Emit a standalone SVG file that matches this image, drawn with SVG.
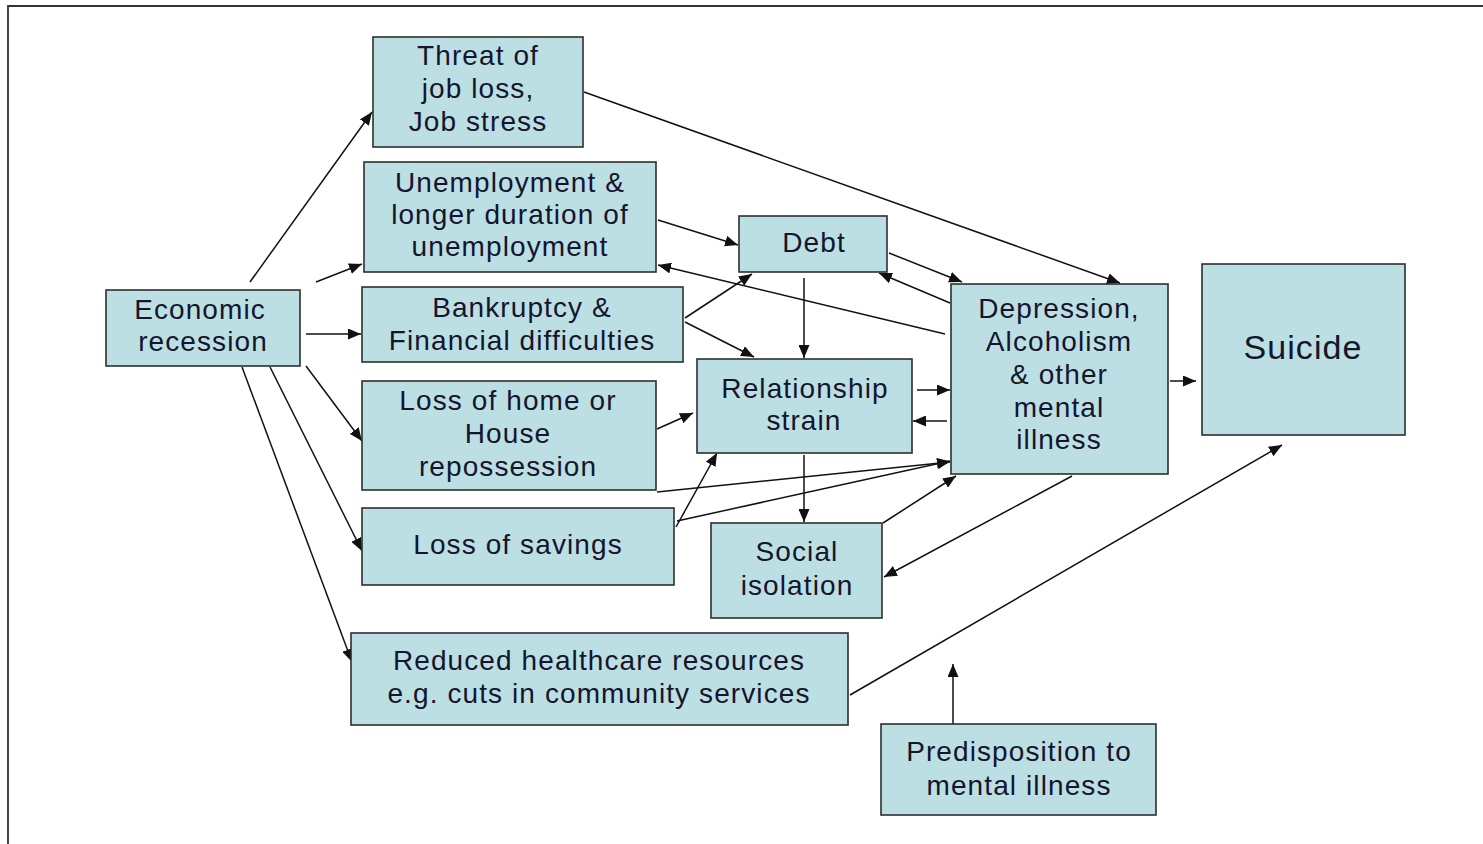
<svg xmlns="http://www.w3.org/2000/svg" width="1483" height="844" viewBox="0 0 1483 844">
  <style>
    .box { fill: #bcdfe3; stroke: #2e2e2e; stroke-width: 1.6; }
    .lbl { font-family: "Liberation Sans", Arial, sans-serif; font-size: 28px; fill: #15152e; text-anchor: middle; letter-spacing: 1.1px; }
    .big { font-size: 34px; }
    .con { stroke: #111; stroke-width: 1.5; fill: none; marker-end: url(#arrow); }
    .frame { stroke: #333; stroke-width: 1.8; fill: none; }
  </style>
  <defs>
    <marker id="arrow" viewBox="0 0 13 11" refX="13" refY="5.5" markerWidth="13" markerHeight="11" markerUnits="userSpaceOnUse" orient="auto">
      <path d="M0,0 L13,5.5 L0,11 Z" fill="#111"/>
    </marker>
  </defs>

  <rect width="1483" height="844" fill="#ffffff"/>
  <!-- outer frame (top and left edges) -->
  <path class="frame" d="M8,844 V6 H1483"/>

  <!-- connectors -->
  <g id="connectors">
    <line class="con" x1="250" y1="282" x2="372" y2="112"/>
    <line class="con" x1="316" y1="282" x2="362" y2="264"/>
    <line class="con" x1="306" y1="334" x2="361" y2="334"/>
    <line class="con" x1="306" y1="366" x2="362" y2="441"/>
    <line class="con" x1="270" y1="367" x2="362" y2="551"/>
    <line class="con" x1="242" y1="367" x2="352" y2="662"/>
    <line class="con" x1="584" y1="92" x2="1120" y2="283"/>
    <line class="con" x1="658" y1="220" x2="738" y2="245"/>
    <line class="con" x1="945" y1="334" x2="658" y2="265"/>
    <line class="con" x1="889" y1="253" x2="962" y2="282"/>
    <line class="con" x1="950" y1="303" x2="879" y2="273"/>
    <line class="con" x1="685" y1="318" x2="752" y2="274"/>
    <line class="con" x1="685" y1="322" x2="754" y2="357"/>
    <line class="con" x1="804" y1="278" x2="804" y2="358"/>
    <line class="con" x1="917" y1="390" x2="950" y2="390"/>
    <line class="con" x1="947" y1="421" x2="913" y2="421"/>
    <line class="con" x1="657" y1="429" x2="693" y2="413"/>
    <line class="con" x1="657" y1="492" x2="950" y2="462"/>
    <line class="con" x1="676" y1="527" x2="717" y2="453"/>
    <line class="con" x1="677" y1="521" x2="950" y2="461"/>
    <line class="con" x1="804" y1="455" x2="804" y2="522"/>
    <line class="con" x1="883" y1="523" x2="956" y2="476"/>
    <line class="con" x1="1072" y1="476" x2="884" y2="577"/>
    <line class="con" x1="1170" y1="381" x2="1196" y2="381"/>
    <line class="con" x1="850" y1="695" x2="1282" y2="445"/>
    <line class="con" x1="953" y1="724" x2="953" y2="664"/>
  </g>

  <g id="threat">
    <rect class="box" x="373" y="37" width="210" height="110"/>
    <text class="lbl" x="478" y="65">Threat of</text>
    <text class="lbl" x="478" y="98">job loss,</text>
    <text class="lbl" x="478" y="131">Job stress</text>
  </g>
  <g id="unemployment">
    <rect class="box" x="364" y="162" width="292" height="110"/>
    <text class="lbl" x="510" y="192">Unemployment &amp;</text>
    <text class="lbl" x="510" y="224">longer duration of</text>
    <text class="lbl" x="510" y="256">unemployment</text>
  </g>
  <g id="recession">
    <rect class="box" x="106" y="290" width="194" height="76"/>
    <text class="lbl" x="200" y="319">Economic</text>
    <text class="lbl" x="203" y="351">recession</text>
  </g>
  <g id="bankruptcy">
    <rect class="box" x="362" y="287" width="321" height="75"/>
    <text class="lbl" x="522" y="317">Bankruptcy &amp;</text>
    <text class="lbl" x="522" y="350">Financial difficulties</text>
  </g>
  <g id="home">
    <rect class="box" x="362" y="381" width="294" height="109"/>
    <text class="lbl" x="508" y="410">Loss of home or</text>
    <text class="lbl" x="508" y="443">House</text>
    <text class="lbl" x="508" y="476">repossession</text>
  </g>
  <g id="savings">
    <rect class="box" x="362" y="508" width="312" height="77"/>
    <text class="lbl" x="518" y="554">Loss of savings</text>
  </g>
  <g id="healthcare">
    <rect class="box" x="351" y="633" width="497" height="92"/>
    <text class="lbl" x="599" y="670">Reduced healthcare resources</text>
    <text class="lbl" x="599" y="703">e.g. cuts in community services</text>
  </g>
  <g id="debt">
    <rect class="box" x="739" y="216" width="148" height="56"/>
    <text class="lbl" x="814" y="252">Debt</text>
  </g>
  <g id="relationship">
    <rect class="box" x="697" y="359" width="215" height="94"/>
    <text class="lbl" x="805" y="398">Relationship</text>
    <text class="lbl" x="804" y="430">strain</text>
  </g>
  <g id="isolation">
    <rect class="box" x="711" y="523" width="171" height="95"/>
    <text class="lbl" x="797" y="561">Social</text>
    <text class="lbl" x="797" y="595">isolation</text>
  </g>
  <g id="depression">
    <rect class="box" x="951" y="284" width="217" height="190"/>
    <text class="lbl" x="1059" y="318">Depression,</text>
    <text class="lbl" x="1059" y="351">Alcoholism</text>
    <text class="lbl" x="1059" y="384">&amp; other</text>
    <text class="lbl" x="1059" y="417">mental</text>
    <text class="lbl" x="1059" y="449">illness</text>
  </g>
  <g id="suicide">
    <rect class="box" x="1202" y="264" width="203" height="171"/>
    <text class="lbl big" x="1303" y="359">Suicide</text>
  </g>
  <g id="predisposition">
    <rect class="box" x="881" y="724" width="275" height="91"/>
    <text class="lbl" x="1019" y="761">Predisposition to</text>
    <text class="lbl" x="1019" y="795">mental illness</text>
  </g>
</svg>
